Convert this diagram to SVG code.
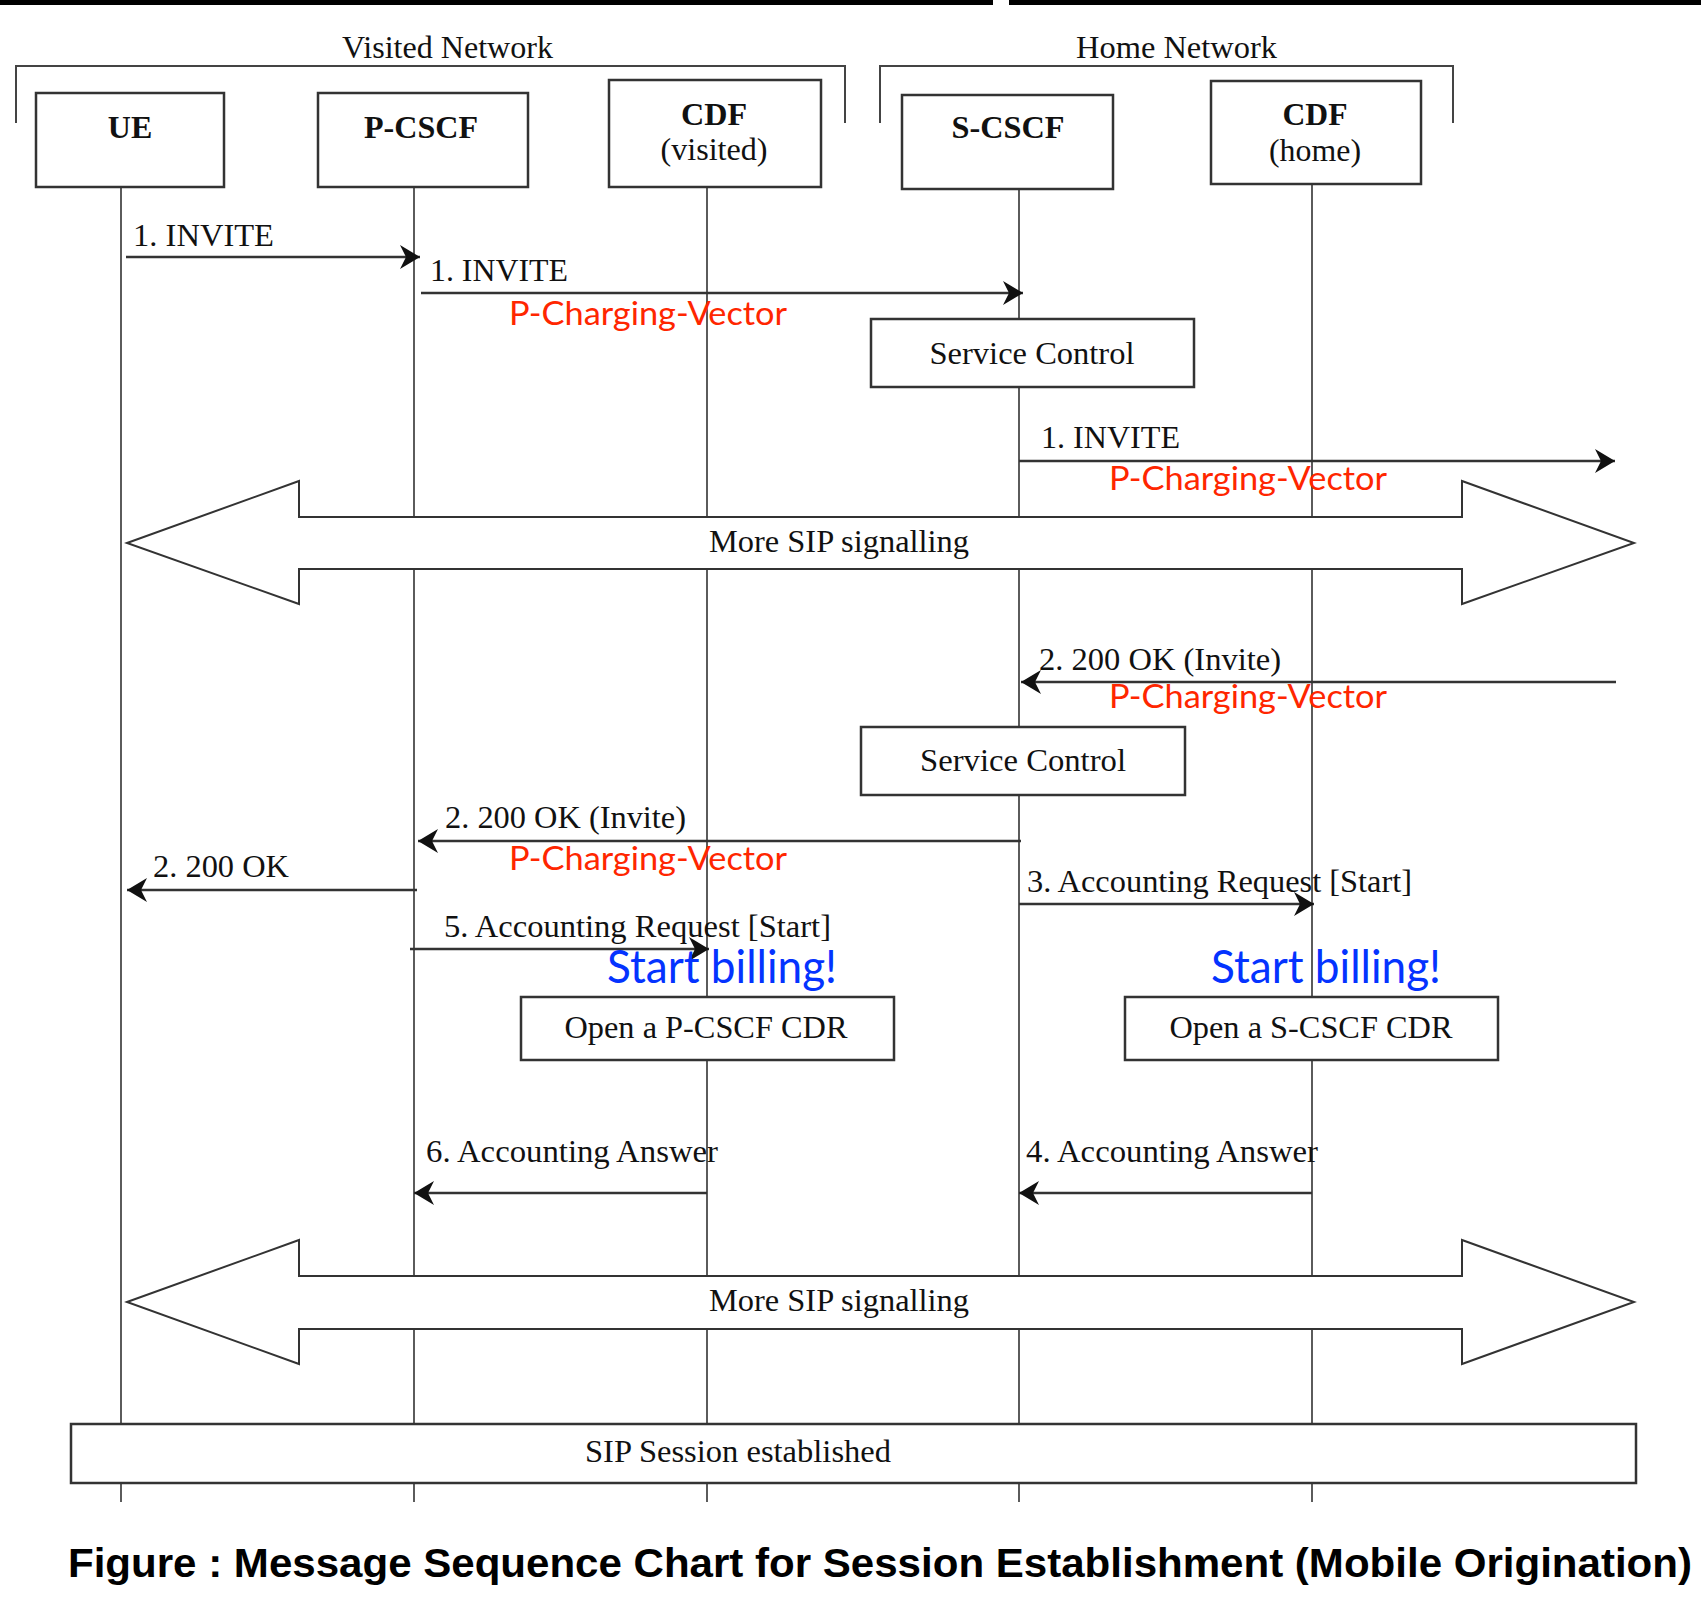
<svg xmlns="http://www.w3.org/2000/svg" width="1701" height="1611" viewBox="0 0 1701 1611">
<defs>
<marker id="ah" markerUnits="userSpaceOnUse" markerWidth="22" markerHeight="26" refX="20" refY="12" orient="auto">
<path d="M0,0 L20,12 L0,24 L6,12 z" fill="#111"/>
</marker>
<style>
.t{font-family:"Liberation Serif","Times New Roman",serif;font-size:31px;fill:#111}
.b{font-family:"Liberation Serif","Times New Roman",serif;font-size:32px;font-weight:bold;fill:#111}
.box{fill:#fff;stroke:#333;stroke-width:2.5}
.life{stroke:#333;stroke-width:1.6;fill:none}
.msg{stroke:#333;stroke-width:2.5;fill:none;marker-end:url(#ah)}
.brk{stroke:#444;stroke-width:2;fill:none}
.red{font-family:Lato,"Open Sans",sans-serif;font-size:32px;fill:#FF2600}
.blue{font-family:Lato,"Open Sans",sans-serif;font-size:46px;fill:#0433FF}
.big{fill:#fff;stroke:#333;stroke-width:2}
.cap{font-family:"Liberation Sans",Arial,sans-serif;font-size:40px;font-weight:bold;fill:#000}
</style>
</defs>
<rect width="1701" height="1611" fill="#fff"/>
<rect x="0" y="0" width="993" height="5" fill="#000"/>
<rect x="1009" y="0" width="692" height="5" fill="#000"/>

<g id="visited-network">
<path class="brk" d="M16,123 V66 H845 V123"/>
<text class="t" x="342" y="58" textLength="211" lengthAdjust="spacingAndGlyphs">Visited Network</text>
</g>
<g id="home-network">
<path class="brk" d="M880,123 V66 H1453 V123"/>
<text class="t" x="1076" y="58" textLength="201" lengthAdjust="spacingAndGlyphs">Home Network</text>
</g>

<g id="lifelines">
<line class="life" x1="121" y1="187" x2="121" y2="1502"/>
<line class="life" x1="414" y1="187" x2="414" y2="1502"/>
<line class="life" x1="707" y1="187" x2="707" y2="1502"/>
<line class="life" x1="1019" y1="189" x2="1019" y2="1502"/>
<line class="life" x1="1312" y1="184" x2="1312" y2="1502"/>
</g>

<g id="UE">
<rect class="box" x="36" y="93" width="188" height="94"/>
<text class="b" x="130" y="138" text-anchor="middle">UE</text>
</g>
<g id="P-CSCF">
<rect class="box" x="318" y="93" width="210" height="94"/>
<text class="b" x="421" y="138" text-anchor="middle" textLength="114" lengthAdjust="spacingAndGlyphs">P-CSCF</text>
</g>
<g id="CDF-visited">
<rect class="box" x="609" y="80" width="212" height="107"/>
<text class="b" x="714" y="125" text-anchor="middle" textLength="66" lengthAdjust="spacingAndGlyphs">CDF</text>
<text class="t" x="714" y="160" text-anchor="middle" textLength="107" lengthAdjust="spacingAndGlyphs">(visited)</text>
</g>
<g id="S-CSCF">
<rect class="box" x="902" y="95" width="211" height="94"/>
<text class="b" x="1008" y="138" text-anchor="middle" textLength="113" lengthAdjust="spacingAndGlyphs">S-CSCF</text>
</g>
<g id="CDF-home">
<rect class="box" x="1211" y="81" width="210" height="103"/>
<text class="b" x="1315" y="125" text-anchor="middle" textLength="65" lengthAdjust="spacingAndGlyphs">CDF</text>
<text class="t" x="1315" y="161" text-anchor="middle" textLength="92" lengthAdjust="spacingAndGlyphs">(home)</text>
</g>

<g id="service-control-1">
<rect class="box" x="871" y="319" width="323" height="68"/>
<text class="t" x="1032" y="364" text-anchor="middle" textLength="205" lengthAdjust="spacingAndGlyphs">Service Control</text>
</g>
<g id="more-sip-1">
<path class="big" d="M127,543 L299,481 V517 H1462 V481 L1634,543 L1462,604 V569 H299 V604 Z"/>
<text class="t" x="839" y="552" text-anchor="middle" textLength="260" lengthAdjust="spacingAndGlyphs">More SIP signalling</text>
</g>
<g id="service-control-2">
<rect class="box" x="861" y="727" width="324" height="68"/>
<text class="t" x="1023" y="771" text-anchor="middle" textLength="206" lengthAdjust="spacingAndGlyphs">Service Control</text>
</g>
<g id="open-pcscf-cdr">
<rect class="box" x="521" y="997" width="373" height="63"/>
<text class="t" x="706" y="1038" text-anchor="middle" textLength="283" lengthAdjust="spacingAndGlyphs">Open a P-CSCF CDR</text>
</g>
<g id="open-scscf-cdr">
<rect class="box" x="1125" y="997" width="373" height="63"/>
<text class="t" x="1311" y="1038" text-anchor="middle" textLength="283" lengthAdjust="spacingAndGlyphs">Open a S-CSCF CDR</text>
</g>
<g id="more-sip-2">
<path class="big" d="M127,1302 L299,1240 V1276 H1462 V1240 L1634,1302 L1462,1364 V1329 H299 V1364 Z"/>
<text class="t" x="839" y="1311" text-anchor="middle" textLength="260" lengthAdjust="spacingAndGlyphs">More SIP signalling</text>
</g>
<g id="sip-session">
<rect class="box" x="71" y="1424" width="1565" height="59"/>
<text class="t" x="738" y="1462" text-anchor="middle" textLength="306" lengthAdjust="spacingAndGlyphs">SIP Session established</text>
</g>

<g id="connectors">
<line class="msg" x1="126" y1="257" x2="420" y2="257"/>
<line class="msg" x1="421" y1="293" x2="1023" y2="293"/>
<line class="msg" x1="1019" y1="461" x2="1615" y2="461"/>
<line class="msg" x1="1616" y1="682" x2="1021" y2="682"/>
<line class="msg" x1="1021" y1="841" x2="418" y2="841"/>
<line class="msg" x1="417" y1="890" x2="127" y2="890"/>
<line class="msg" x1="1019" y1="904" x2="1314" y2="904"/>
<line class="msg" x1="410" y1="949" x2="709" y2="949"/>
<line class="msg" x1="707" y1="1193" x2="414" y2="1193"/>
<line class="msg" x1="1312" y1="1193" x2="1019" y2="1193"/>
</g>

<g id="labels">
<text class="t" x="133" y="246" textLength="141" lengthAdjust="spacingAndGlyphs">1. INVITE</text>
<text class="t" x="430" y="281" textLength="138" lengthAdjust="spacingAndGlyphs">1. INVITE</text>
<text class="red" x="509" y="325" textLength="278" lengthAdjust="spacingAndGlyphs">P-Charging-Vector</text>
<text class="t" x="1041" y="448" textLength="139" lengthAdjust="spacingAndGlyphs">1. INVITE</text>
<text class="red" x="1109" y="490" textLength="278" lengthAdjust="spacingAndGlyphs">P-Charging-Vector</text>
<text class="t" x="1039" y="670" textLength="242" lengthAdjust="spacingAndGlyphs">2. 200 OK (Invite)</text>
<text class="red" x="1109" y="708" textLength="278" lengthAdjust="spacingAndGlyphs">P-Charging-Vector</text>
<text class="t" x="445" y="828" textLength="241" lengthAdjust="spacingAndGlyphs">2. 200 OK (Invite)</text>
<text class="red" x="509" y="870" textLength="278" lengthAdjust="spacingAndGlyphs">P-Charging-Vector</text>
<text class="t" x="153" y="877" textLength="136" lengthAdjust="spacingAndGlyphs">2. 200 OK</text>
<text class="t" x="1027" y="892" textLength="385" lengthAdjust="spacingAndGlyphs">3. Accounting Request [Start]</text>
<text class="t" x="444" y="937" textLength="387" lengthAdjust="spacingAndGlyphs">5. Accounting Request [Start]</text>
<text class="blue" x="607" y="983" textLength="230" lengthAdjust="spacingAndGlyphs">Start billing!</text>
<text class="blue" x="1211" y="983" textLength="230" lengthAdjust="spacingAndGlyphs">Start billing!</text>
<text class="t" x="426" y="1162" textLength="292" lengthAdjust="spacingAndGlyphs">6. Accounting Answer</text>
<text class="t" x="1026" y="1162" textLength="292" lengthAdjust="spacingAndGlyphs">4. Accounting Answer</text>
</g>

<text class="cap" x="68" y="1577" textLength="1624" lengthAdjust="spacingAndGlyphs">Figure : Message Sequence Chart for Session Establishment (Mobile Origination)</text>
</svg>
